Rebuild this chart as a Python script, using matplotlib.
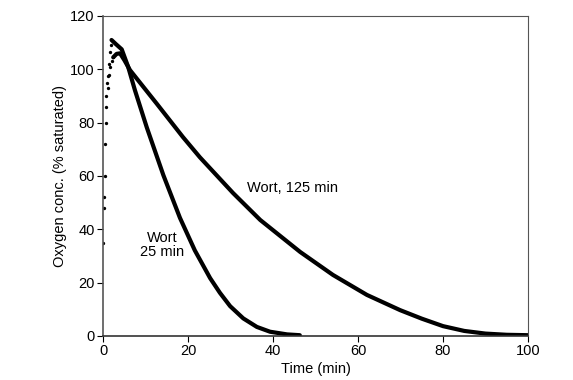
import matplotlib
matplotlib.use("Agg")
import matplotlib.pyplot as plt

plt.rcParams['font.family'] = ['Liberation Sans', 'DejaVu Sans']

# Rising (sampled dots) portion at start
rise_t = [0.1, 0.2, 0.3, 0.4, 0.5, 0.6, 0.7, 0.8, 1.0, 1.2, 1.4, 1.6, 1.8]
rise_y = [35, 48, 52, 60, 72, 80, 86, 90, 95, 97.5, 102, 106.5, 109]
rise2_t = [1.1, 1.4, 1.7, 2.0, 2.4]
rise2_y = [93, 98, 101, 103, 104.5]

# Wort, 25 min
t25 = [2.0, 3.0, 4.4, 5.9, 7.5, 10.3, 14.2, 18.1, 21.6, 25.2,
       27.5, 29.9, 33.0, 36.2, 39.3, 43.3, 46.3]
y25 = [111, 109.5, 107.5, 101, 92.2, 78.2, 60.3, 44.3, 32.1, 21.7,
       16.2, 11.2, 6.6, 3.4, 1.6, 0.6, 0.3]

# Wort, 125 min
t125 = [2.4, 3.2, 4.0, 5.0, 6.35, 12.7, 18.8, 22.8, 30.6, 37.0, 46.4, 54.1,
        62.1, 69.9, 75.0, 80.0, 85.0, 90.0, 95.0, 100.0]
y125 = [104.5, 105.8, 106, 103.5, 99.7, 87, 74.6, 67, 53.6, 43.5, 31.5, 22.9,
        15.4, 9.7, 6.5, 3.7, 1.9, 0.9, 0.45, 0.3]

xticks = [0, 20, 40, 60, 80, 100]
yticks = [0, 20, 40, 60, 80, 100, 120]

fig = plt.figure(figsize=(5.73, 3.80), dpi=100)
ax = fig.add_axes([0.1798, 0.1158, 0.7417, 0.8421])

ax.plot(t25, y25, color='black', lw=3, solid_capstyle='round', solid_joinstyle='round')
ax.plot(t125, y125, color='black', lw=3, solid_capstyle='round', solid_joinstyle='round')
ax.plot(rise_t, rise_y, 'o', color='black', ms=2.4, mew=0)
ax.plot(rise2_t, rise2_y, 'o', color='black', ms=2.4, mew=0)

ax.set_xlim(0, 100)
ax.set_ylim(0, 120)
ax.set_xticks(xticks)
ax.set_yticks(yticks)
ax.tick_params(direction='out', length=4, width=0.8, labelsize=10.5, colors='black', pad=2)
for s in ['top', 'right']:
    ax.spines[s].set_color('#555555')
    ax.spines[s].set_linewidth(0.8)
ax.spines['left'].set_color('#555555')
ax.spines['left'].set_linewidth(1.2)
ax.spines['bottom'].set_color('#333333')
ax.spines['bottom'].set_linewidth(1.2)

ax.set_xlabel('Time (min)', fontsize=10.5, labelpad=3)
ax.set_ylabel('Oxygen conc. (% saturated)', fontsize=10.5, labelpad=2)

ax.text(33.9, 55.5, 'Wort, 125 min', fontsize=10.5, ha='left', va='center')
ax.text(13.9, 34, 'Wort\n25 min', fontsize=10.5, ha='center', va='center', linespacing=1.0)

fig.savefig('out.png', dpi=100)
